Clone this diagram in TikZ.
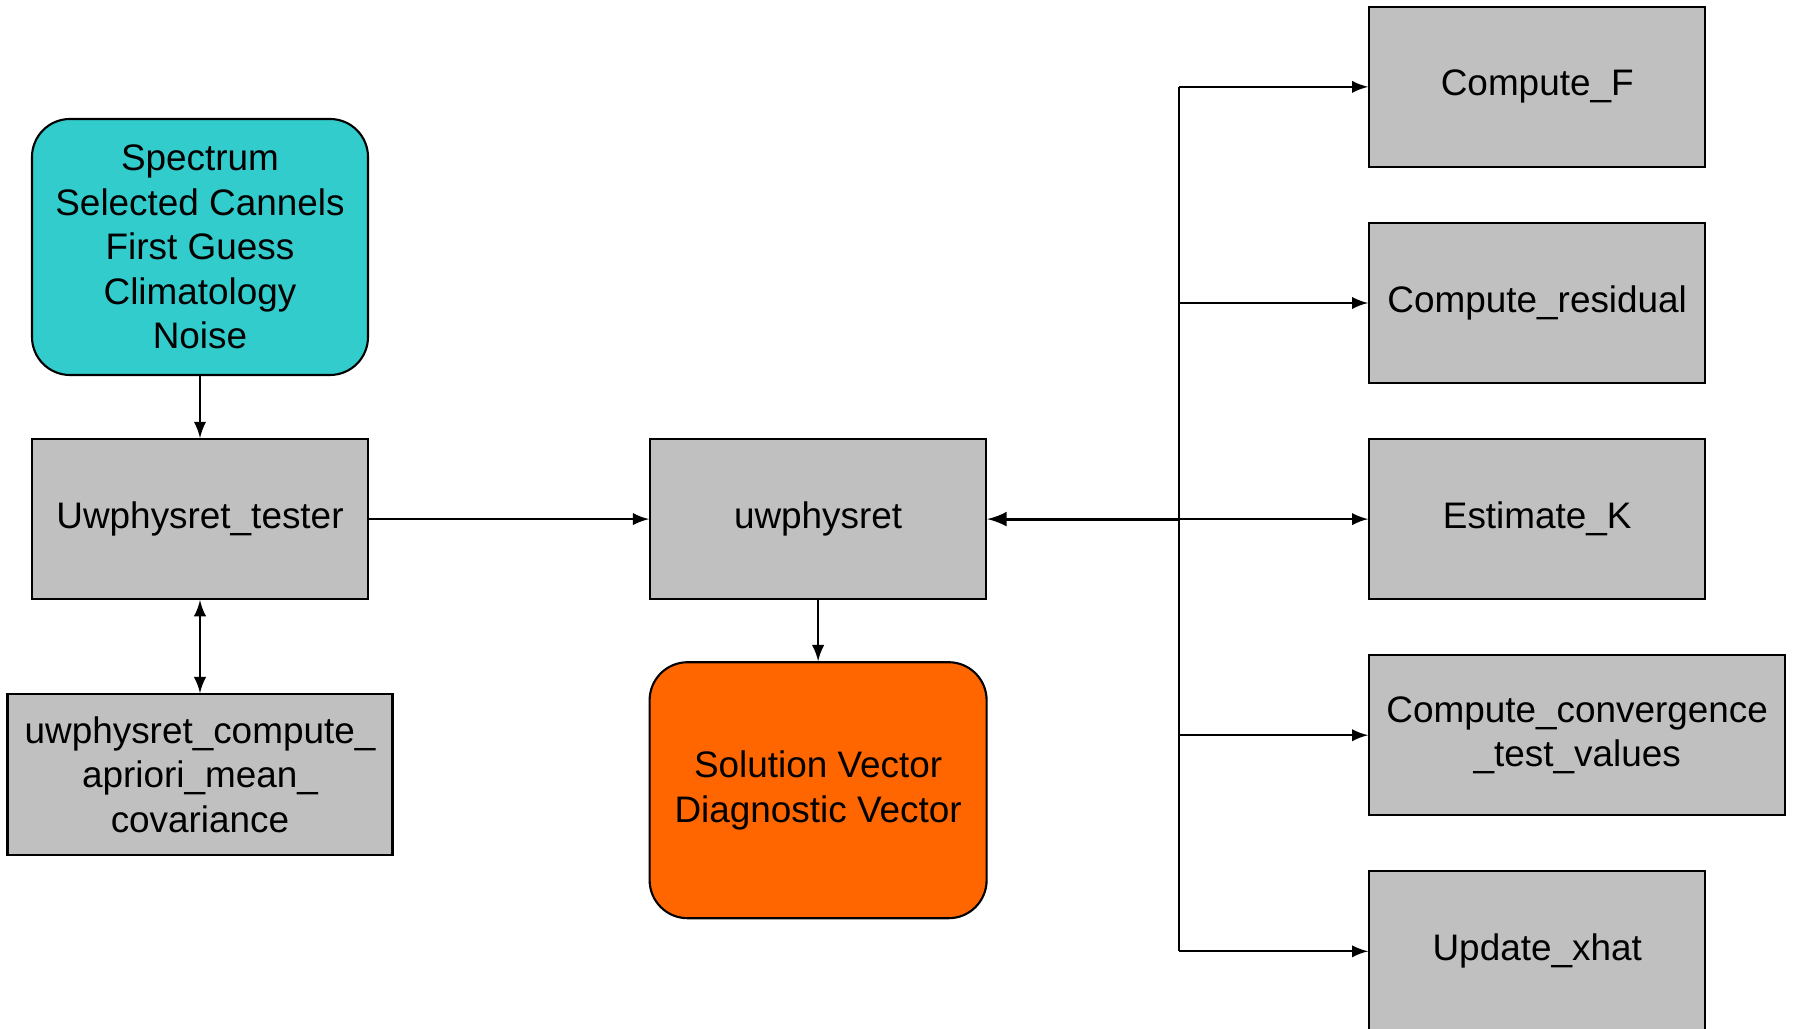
\documentclass[tikz,border=0pt]{standalone}
\usepackage{fontspec}
\setmainfont{Liberation Sans}
\usetikzlibrary{positioning}

\definecolor{boxgray}{RGB}{192,192,192}
\definecolor{inputcyan}{RGB}{51,204,204}
\definecolor{outputorange}{RGB}{255,102,0}

\tikzset{
	proc/.style={draw, fill=boxgray, minimum width=3.36cm, minimum height=1.6cm},
	inbox/.style={draw, fill=inputcyan, rounded corners=0.38cm, minimum width=3.36cm, minimum height=2.56cm},
	outbox/.style={draw, fill=outputorange, rounded corners=0.38cm, minimum width=3.37cm, minimum height=2.56cm}
}

\begin{document}
\begin{tikzpicture}[style={align=center, line width=0.6pt, inner sep=0pt, font=\fontsize{10.5}{12.7}\selectfont}]
		\useasboundingbox (0,0) rectangle (17.93,-10.29);
		
		% left column
		\node[inbox] (spec) at (2.00,-2.47) {Spectrum\\Selected Cannels\\First Guess\\Climatology\\Noise};
		\node[proc, below=0.62cm of spec] (tester) {Uwphysret\_tester};
		\node[proc, minimum width=3.85cm, minimum height=1.61cm, below=0.93cm of tester] (apriori) {uwphysret\_compute\_\\apriori\_mean\_\\covariance};
		
		% middle column
		\node[proc, right=2.80cm of tester] (uwphys) {uwphysret};
		\node[outbox, below=0.61cm of uwphys] (solution) {Solution Vector\\Diagnostic Vector};
		
		% right column
		\node[proc, right=3.81cm of uwphys] (estk) {Estimate\_K};
		\node[proc, above=0.54cm of estk] (resid) {Compute\_residual};
		\node[proc, above=0.54cm of resid] (compf) {Compute\_F};
		\node[proc, minimum width=4.16cm, below=0.54cm of estk.south west, anchor=north west] (conv) {Compute\_convergence\\\_test\_values};
		\node[proc, below=0.54cm of conv.south west, anchor=north west] (update) {Update\_xhat};
		
		\coordinate[right=1.92cm of uwphys.east] (bus);
		
		\draw[-latex] (spec) -- (tester);
		\draw[latex-latex] (tester) -- (apriori);
		\draw[-latex] (tester) -- (uwphys);
		\draw[-latex] (uwphys) -- (solution);
		\draw[-latex, line width=0.9pt] (bus) -- (uwphys);
		\draw (bus |- compf) -- (bus |- update);
		\foreach \n in {compf, resid, estk, conv, update}
			\draw[-latex] (bus |- \n) -- (\n);
\end{tikzpicture}
\end{document}
